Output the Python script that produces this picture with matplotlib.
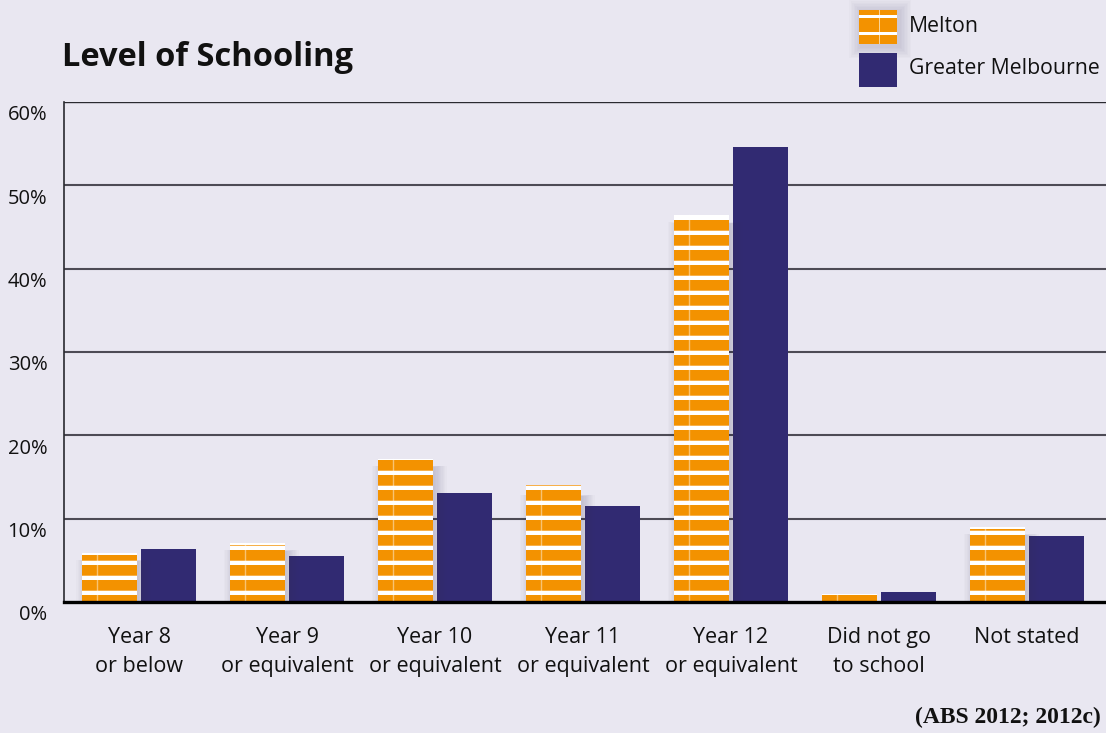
import numpy as np
import matplotlib
matplotlib.use("Agg")
import matplotlib.pyplot as plt
from matplotlib.patches import Rectangle
from matplotlib.transforms import ScaledTranslation

# data
categories = ["Year 8\nor below", "Year 9\nor equivalent", "Year 10\nor equivalent",
              "Year 11\nor equivalent", "Year 12\nor equivalent", "Did not go\nto school",
              "Not stated"]
melton = [5.9, 7.1, 17.2, 13.7, 46.4, 1.0, 9.0]
greater_melb = [6.4, 5.5, 13.1, 11.5, 54.6, 1.2, 7.9]
yticks = [0, 10, 20, 30, 40, 50, 60]
ytick_labels = ["0%", "10%", "20%", "30%", "40%", "50%", "60%"]

BG = "#E9E7F1"
ORANGE = "#F39200"
NAVY = "#312A72"
FONT = ["Open Sans", "DejaVu Sans"]

plt.rcParams["font.family"] = FONT

W, H = 1106, 733
fig = plt.figure(figsize=(W / 100, H / 100), dpi=100, facecolor=BG)
ax = fig.add_axes([64 / W, 1 - 602 / H, 1 - 64 / W, 500 / H])
ax.set_facecolor(BG)


def fx(px):
    return px / W


def fy(py):
    return 1 - py / H


x = np.arange(len(categories))
off = 0.2
bw = 0.368

# gridlines
for t in yticks[1:-1]:
    ax.axhline(t, color="#4d4b55", lw=1.5, zorder=1)
ax.axhline(60, color="#2a2a30", lw=1.0, zorder=1)

gm_bars = ax.bar(x + off, greater_melb, bw, color=NAVY, zorder=2)

# soft shadow under the Melton bars
for i in range(10):
    d = (i + 1) * 1.3
    for xi, h in zip(x, melton):
        ax.add_patch(Rectangle((xi - off - bw / 2 - d / 148 + 7 / 148, -d * 0.012 - 0.1),
                               bw + 2 * d / 148 - 6 / 148, h + 2 * d * 0.012 - 0.9,
                               color="#3a3550", alpha=0.02, lw=0, zorder=2.5,
                               clip_on=False))

m_bars = ax.bar(x - off, melton, bw, color=ORANGE, zorder=3)

# white stripe pattern on the Melton bars
period = 1.8
for b in m_bars:
    bx, bwid, bh = b.get_x(), b.get_width(), b.get_height()
    for yy in np.arange(1.08, bh, period):
        ax.add_patch(Rectangle((bx, yy - 0.25), bwid, 0.5, color="white",
                               lw=0, zorder=3.5, clip_path=b))
        ax.add_patch(Rectangle((bx, yy + 0.25), bwid, 0.12, color="#F7B04A",
                               lw=0, zorder=3.5, clip_path=b))
    ax.add_patch(Rectangle((bx, bh - 0.2), bwid, 0.2, color="white", lw=0, zorder=3.5))
    ax.plot([bx + bwid * 0.27] * 2, [0, bh], color="white", alpha=0.45, lw=1.0,
            zorder=3.6)

ax.set_xlim(-0.507, 6.534)
ax.set_ylim(0, 60)

for s in ["top", "right"]:
    ax.spines[s].set_visible(False)
ax.spines["left"].set_color("#2a2a30")
ax.spines["left"].set_linewidth(1.2)
ax.spines["bottom"].set_color("black")
ax.spines["bottom"].set_linewidth(2.4)
ax.spines["bottom"].set_zorder(5)

ax.set_yticks(yticks)
ax.set_yticklabels(ytick_labels, fontsize=14.5, color="#111111")
ax.tick_params(axis="y", length=0, pad=12)
for lab in ax.get_yticklabels():
    lab.set_transform(lab.get_transform() + ScaledTranslation(0, -11 / 100, fig.dpi_scale_trans))

ax.set_xticks(x)
ax.set_xticklabels(categories, fontsize=15.5, color="#111111", linespacing=1.5)
ax.tick_params(axis="x", length=0, pad=18)

# title
fig.text(fx(62), fy(57), "Level of Schooling", fontsize=23.5, fontweight="bold",
         color="#111111", va="center", ha="left")

# legend
for i in range(8):
    d = (i + 1) * 1.5
    fig.add_artist(Rectangle((fx(859 - d + 2), fy(44 + d + 2)), (38 + 2 * d) / W,
                             (34 + 2 * d) / H, transform=fig.transFigure,
                             color="#3a3550", alpha=0.02, lw=0))
fig.add_artist(Rectangle((fx(859), fy(44)), 38 / W, 34 / H, transform=fig.transFigure,
                         color=ORANGE, lw=0))
for yb in [15, 32]:
    fig.add_artist(Rectangle((fx(859), fy(yb + 3)), 38 / W, 3 / H,
                             transform=fig.transFigure, color="white", lw=0))
fig.add_artist(Rectangle((fx(879), fy(44)), 1 / W, 34 / H, transform=fig.transFigure,
                         color="white", alpha=0.6, lw=0))
fig.add_artist(Rectangle((fx(859), fy(87)), 38 / W, 34 / H, transform=fig.transFigure,
                         color=NAVY, lw=0))
fig.text(fx(909), fy(26), "Melton", fontsize=15.3, color="#111111", va="center")
fig.text(fx(909), fy(69), "Greater Melbourne", fontsize=15.3, color="#111111", va="center")

# source
fig.text(fx(1101), fy(717), "(ABS 2012; 2012c)", fontsize=17, fontweight="bold",
         family="Liberation Serif", ha="right", va="center", color="#111111")

fig.savefig("out.png", dpi=100, facecolor=BG)
